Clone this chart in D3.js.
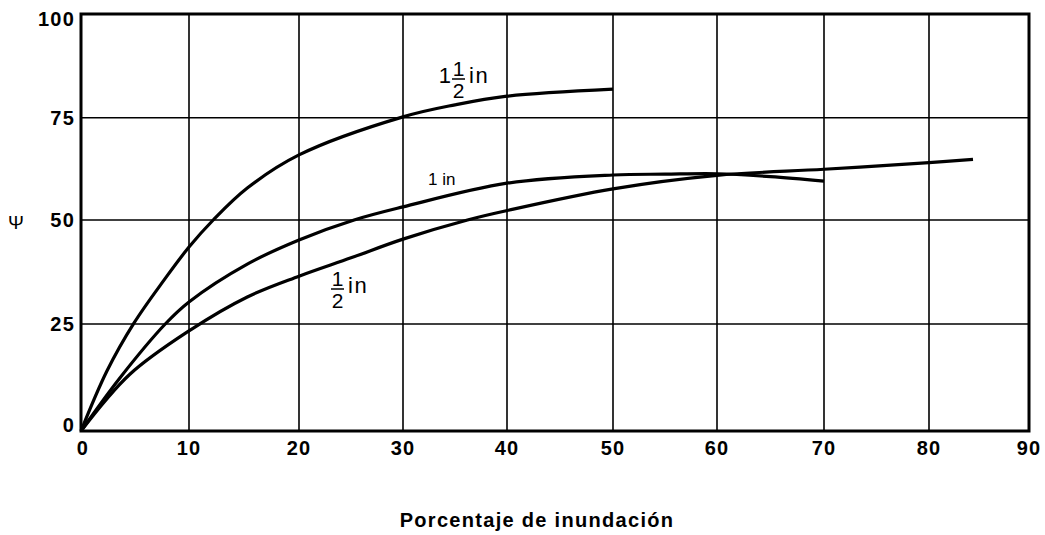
<!DOCTYPE html>
<html><head><meta charset="utf-8">
<script src="https://cdn.jsdelivr.net/npm/d3@7"></script>
<style>
html,body{margin:0;padding:0;background:#fff;}
text{font-family:"Liberation Sans",Arial,sans-serif;fill:#000;}
</style></head>
<body>
<svg id="chart" width="1045" height="535"></svg>
<script>
const xTicks = [0,10,20,30,40,50,60,70,80,90];
const yTicks = [0,25,50,75,100];
const xTitle = "Porcentaje de inundación";
const yTitle = "Ψ";
// series: percent (x) and psi (y)
const s15x = [0,2.4,4.9,7.7,10,12.2,15.3,20,30,35,40,50];
const s15y = [0,14,25.2,35.6,43.5,50,57.8,65.9,75.2,78.1,80.2,81.9];
const s10x = [0,3.6,7.8,10,15.3,20,25.3,30,40,50,55,60,65,70];
const s10y = [0,12.4,25,30.3,39.4,45.2,50,53.2,59,61,61.2,61.3,60.6,59.5];
const s05x = [0,4.5,10,15.3,20,25,30,36.2,40,50,60,70,80,84.4];
const s05y = [0,13.2,23.4,31.5,36.5,40.9,45.4,50,52.3,57.6,60.9,62.4,64,64.8];

const svg = d3.select("#chart");
// the printed grid is slightly uneven, so a polylinear scale follows it
const x = d3.scaleLinear().domain(xTicks).range([81,189,299,403,507,613,717,824,929,1029]);
const y = d3.scaleLinear().domain(yTicks).range([431,324,220,117.7,14]);

// grid
svg.append("g").selectAll("line").data(xTicks.slice(1,-1)).join("line")
  .attr("x1",d=>x(d)).attr("x2",d=>x(d)).attr("y1",y(0)).attr("y2",y(100))
  .attr("stroke","#000").attr("stroke-width",1.6);
svg.append("g").selectAll("line").data(yTicks.slice(1,-1)).join("line")
  .attr("y1",d=>y(d)).attr("y2",d=>y(d)).attr("x1",x(0)).attr("x2",x(90))
  .attr("stroke","#000").attr("stroke-width",1.6);

// curves
const line = d3.line().x(d=>x(d[0])).y(d=>y(d[1])).curve(d3.curveCatmullRom.alpha(0.5));
[[s15x,s15y],[s10x,s10y],[s05x,s05y]].forEach(([xs,ys])=>{
  svg.append("path").datum(xs.map((v,i)=>[v,ys[i]])).attr("d",line)
    .attr("fill","none").attr("stroke","#000").attr("stroke-width",3.2)
    .attr("stroke-linecap","butt");
});

// frame
svg.append("rect").attr("x",x(0)).attr("y",y(100)).attr("width",x(90)-x(0)).attr("height",y(0)-y(100))
  .attr("fill","none").attr("stroke","#000").attr("stroke-width",3);

// axes labels
svg.append("g").selectAll("text").data(xTicks).join("text")
  .attr("x",d=>x(d)+(d===0?2:0)).attr("y",455).attr("text-anchor","middle")
  .attr("font-size",20).attr("font-weight","bold").attr("letter-spacing",1.2).text(d=>d);
svg.append("g").selectAll("text").data(yTicks).join("text")
  .attr("x",75).attr("y",d=>y(d)+(d===100?12:d===0?1:7)).attr("text-anchor","end")
  .attr("font-size",20).attr("font-weight","bold").attr("letter-spacing",1.2).text(d=>d);

svg.append("text").attr("x",537).attr("y",527).attr("text-anchor","middle")
  .attr("font-size",20).attr("font-weight","bold").attr("letter-spacing",1.3).text(xTitle);
svg.append("text").attr("x",16).attr("y",229).attr("text-anchor","middle")
  .attr("font-size",19).text(yTitle);

// curve labels
function fracLabel(g, whole, fx, lineY, inX){
  if(whole){ g.append("text").attr("x",fx-1).attr("y",lineY+4).attr("text-anchor","end").attr("font-size",22).text(whole); }
  g.append("text").attr("x",fx+6.5).attr("y",lineY-3).attr("text-anchor","middle").attr("font-size",21).text("1");
  g.append("line").attr("x1",fx).attr("x2",fx+13).attr("y1",lineY).attr("y2",lineY).attr("stroke","#000").attr("stroke-width",1.5);
  g.append("text").attr("x",fx+6.5).attr("y",lineY+19).attr("text-anchor","middle").attr("font-size",21).text("2");
  g.append("text").attr("x",inX).attr("y",lineY+4).attr("font-size",22).attr("letter-spacing",1.5).text("in");
}
const lab = svg.append("g");
fracLabel(lab,"1",452,79,469);
fracLabel(lab,null,331,289,348);
svg.append("text").attr("x",428).attr("y",185).attr("font-size",17).text("1 in");
</script>
</body></html>
